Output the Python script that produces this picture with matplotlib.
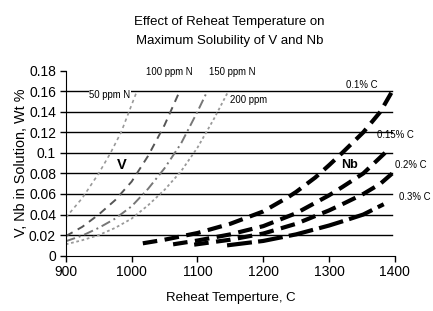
import matplotlib
matplotlib.use("Agg")
import matplotlib.pyplot as plt

plt.rcParams['font.family'] = ['Liberation Sans', 'DejaVu Sans']

# V curves (reheat temperature in C, wt% V in solution)
v50_T = [900, 925, 950, 968, 984, 996, 1008]
v50_y = [0.037, 0.056, 0.080, 0.100, 0.120, 0.140, 0.160]
v100_T = [900, 925, 950, 975, 1000, 1025, 1050, 1073]
v100_y = [0.019, 0.028, 0.040, 0.054, 0.072, 0.097, 0.127, 0.160]
v150_T = [900, 925, 950, 975, 1000, 1025, 1050, 1075, 1100, 1115]
v150_y = [0.014, 0.0195, 0.027, 0.036, 0.048, 0.065, 0.085, 0.109, 0.140, 0.160]
v200_T = [900, 925, 950, 975, 1000, 1025, 1050, 1075, 1100, 1125, 1147]
v200_y = [0.011, 0.015, 0.020, 0.027, 0.036, 0.049, 0.064, 0.082, 0.105, 0.133, 0.160]

# Nb curves (wt% Nb in solution) for four carbon levels
nb10_T = [1017, 1050, 1100, 1150, 1200, 1238, 1250, 1279, 1300, 1320, 1352, 1378, 1396]
nb10_y = [0.012, 0.0155, 0.022, 0.031, 0.043, 0.057, 0.062, 0.076, 0.088, 0.100, 0.120, 0.140, 0.160]
nb15_T = [1063, 1100, 1150, 1200, 1250, 1300, 1320, 1352, 1385]
nb15_y = [0.011, 0.0147, 0.0207, 0.0287, 0.0413, 0.0587, 0.0667, 0.080, 0.100]
nb20_T = [1095, 1150, 1200, 1250, 1300, 1320, 1352, 1378, 1396]
nb20_y = [0.0107, 0.0155, 0.0215, 0.031, 0.044, 0.050, 0.060, 0.070, 0.080]
nb30_T = [1145, 1200, 1250, 1300, 1320, 1352, 1383]
nb30_y = [0.010, 0.0143, 0.0207, 0.0293, 0.0333, 0.040, 0.050]

x_ticks = [900, 1000, 1100, 1200, 1300, 1400]
y_ticks = [0, 0.02, 0.04, 0.06, 0.08, 0.1, 0.12, 0.14, 0.16, 0.18]
y_ticklabels = ['0', '0.02', '0.04', '0.06', '0.08', '0.1', '0.12', '0.14', '0.16', '0.18']
grid_levels = [0.02, 0.04, 0.06, 0.08, 0.1, 0.12, 0.14, 0.16]

fig = plt.figure(figsize=(4.33, 3.11), dpi=100)
ax = fig.add_axes([0.152, 0.178, 0.76, 0.595])

for yv in grid_levels:
    ax.plot([900, 1395], [yv, yv], color='black', lw=1.0, zorder=1)

ax.plot(v50_T, v50_y, color='#999999', lw=1.2, ls=(0, (2, 2)), zorder=2)
ax.plot(v100_T, v100_y, color='#555555', lw=1.4, ls=(0, (4, 3)), zorder=2)
ax.plot(v150_T, v150_y, color='#777777', lw=1.4, ls=(0, (5, 2, 1, 2)), zorder=2)
ax.plot(v200_T, v200_y, color='#999999', lw=1.3, ls=(0, (1.5, 1.5)), zorder=2)

for T, y in [(nb10_T, nb10_y), (nb15_T, nb15_y), (nb20_T, nb20_y)]:
    ax.plot(T, y, color='black', lw=3.0, ls=(0, (3.5, 1.8)), zorder=3)
ax.plot(nb30_T, nb30_y, color='black', lw=3.0, ls=(0, (6, 1.5)), zorder=3)

ax.set_xlim(900, 1400)
ax.set_ylim(0, 0.18)
ax.set_xticks(x_ticks)
ax.set_yticks(y_ticks)
ax.set_yticklabels(y_ticklabels)
ax.tick_params(direction='out', length=4, width=1, labelsize=10, pad=3)
for s in ['top', 'right']:
    ax.spines[s].set_visible(False)

ax.set_xlabel('Reheat Temperture, C', fontsize=9.5, labelpad=9)
ax.set_ylabel('V, Nb in Solution, Wt %', fontsize=10.4, labelpad=1)
fig.text(0.53, 0.929, 'Effect of Reheat Temperature on', fontsize=9.5, ha='center', va='center')
fig.text(0.53, 0.868, 'Maximum Solubility of V and Nb', fontsize=9.5, ha='center', va='center')

fs = 6.9
bb = dict(facecolor='white', edgecolor='none', pad=0.5)
ax.text(967, 0.156, '50 ppm N', fontsize=fs, ha='center', va='center', bbox=bb, zorder=4)
ax.text(1058, 0.179, '100 ppm N', fontsize=fs, ha='center', va='center', clip_on=False)
ax.text(1153, 0.179, '150 ppm N', fontsize=fs, ha='center', va='center', clip_on=False)
ax.text(1177, 0.151, '200 ppm', fontsize=fs, ha='center', va='center', bbox=bb, zorder=4)
ax.text(1349, 0.166, '0.1% C', fontsize=fs, ha='center', va='center')
ax.text(1401, 0.117, '0.15% C', fontsize=fs, ha='center', va='center', clip_on=False)
ax.text(1424, 0.088, '0.2% C', fontsize=fs, ha='center', va='center', clip_on=False)
ax.text(1431, 0.057, '0.3% C', fontsize=fs, ha='center', va='center', clip_on=False)
ax.text(985, 0.088, 'V', fontsize=10.5, fontweight='bold', ha='center', va='center')
ax.text(1331, 0.088, 'Nb', fontsize=9, fontweight='bold', ha='center', va='center', bbox=bb, zorder=4)

fig.savefig('out.png', dpi=100)
